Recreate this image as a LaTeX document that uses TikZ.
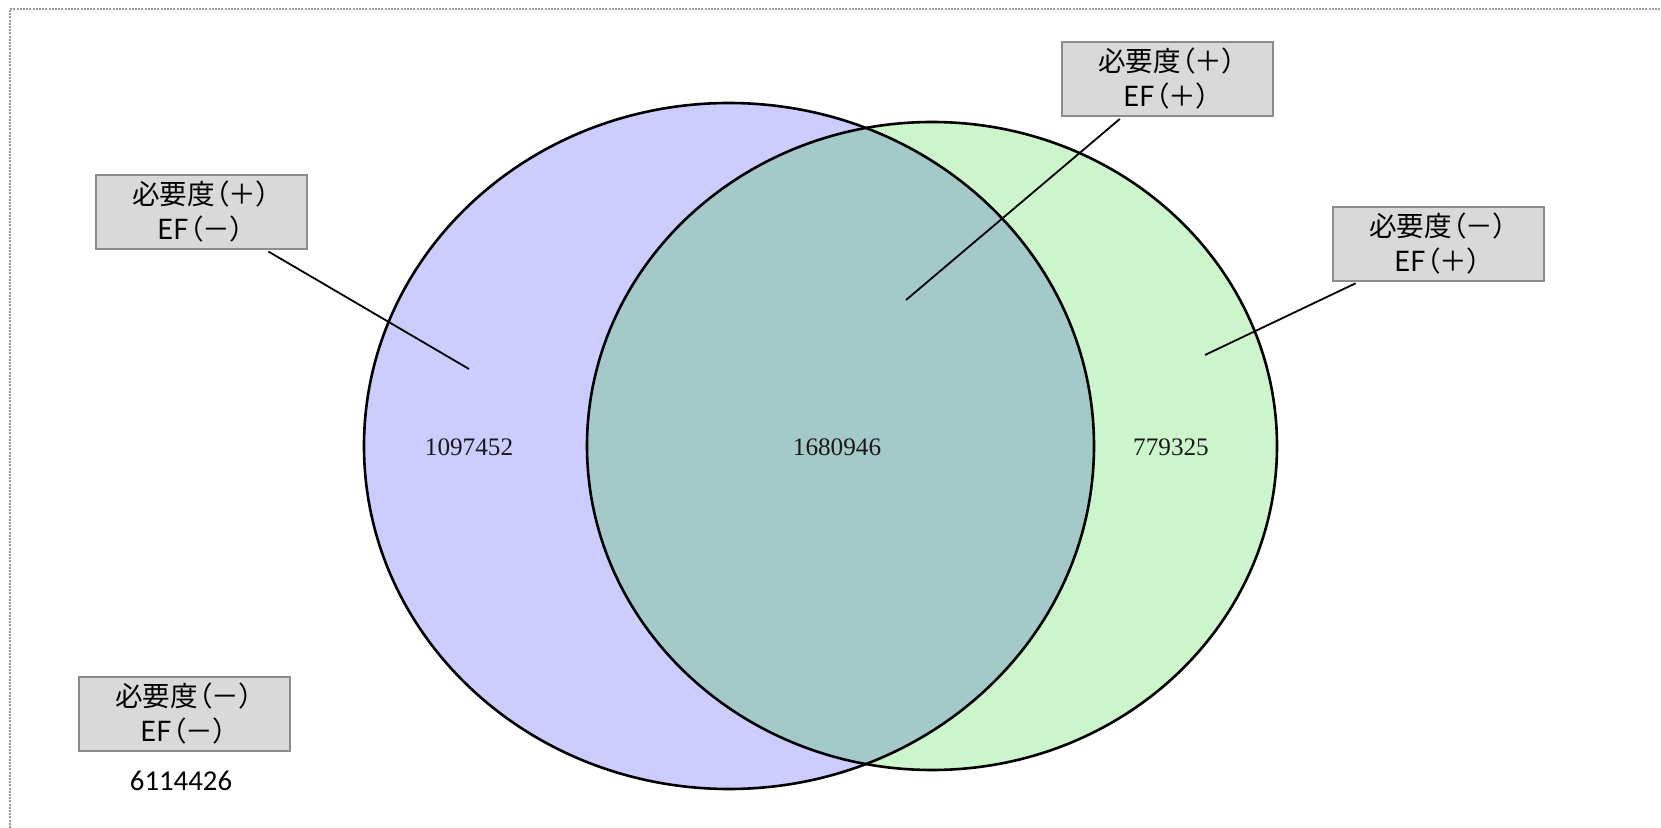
\documentclass[tikz,border=0pt]{standalone}
\usepackage{fontspec}
\setmainfont{Liberation Serif}
\newfontfamily\jpfont[RawFeature=+palt]{Noto Sans CJK JP}
\newfontfamily\calfont{Carlito}
\definecolor{setA}{HTML}{CCCCFF}
\definecolor{setB}{HTML}{CCF5CC}
\definecolor{setAB}{HTML}{A4C9C9}
\definecolor{boxfill}{HTML}{D9D9D9}
\definecolor{boxline}{HTML}{8C8C8C}
\tikzset{
  tagbox/.style={draw=boxline, line width=1pt, fill=boxfill, align=center,
    minimum width=105.5pt, minimum height=37pt, inner sep=0pt,
    font=\jpfont\fontsize{13.8}{17.5}\selectfont},
  count/.style={font=\fontsize{12.6}{15}\selectfont, text=black!90},
  leader/.style={line width=0.9pt}
}
\begin{document}
\begin{tikzpicture}[x=0.5pt,y=-0.5pt]
    \newcommand{\rxa}{182.5pt}
    \newcommand{\rya}{171.5pt}
    \newcommand{\rxb}{172.5pt}
    \newcommand{\ryb}{162pt}
    \useasboundingbox (0,0) rectangle (1661,828);
    \draw[gray!80, line width=0.6pt, dash pattern=on 1pt off 0.6pt] (10,828) -- (10,9) -- (1661,9);

    % the two sets
    \fill[setA] (729,446) ellipse [x radius=\rxa, y radius=\rya];
    \fill[setB] (932,446) ellipse [x radius=\rxb, y radius=\ryb];
    \begin{scope}
        \clip (729,446) ellipse [x radius=\rxa, y radius=\rya];
        \fill[setAB] (932,446) ellipse [x radius=\rxb, y radius=\ryb];
    \end{scope}
    \draw[line width=1.3pt] (729,446) ellipse [x radius=\rxa, y radius=\rya];
    \draw[line width=1.3pt] (932,446) ellipse [x radius=\rxb, y radius=\ryb];

    \node[count] (onlyA) at (469,447) {1097452};
    \node[count] (both) at (837,447) {1680946};
    \node[count] (onlyB) at (1171,447) {779325};

    \node[tagbox] (tagA) at (201,212) {必要度（＋）\\EF（－）};
    \node[tagbox] (tagAB) at (1167,79) {必要度（＋）\\EF（＋）};
    \node[tagbox] (tagB) at (1438,244) {必要度（－）\\EF（＋）};
    \node[tagbox] (tagNone) at (184,714) {必要度（－）\\EF（－）};
    \node[font=\calfont\fontsize{14.4}{17}\selectfont] (none) at (181,781) {6114426};

    \coordinate (tipA) at (469,369);
    \coordinate (tipAB) at (906,300);
    \coordinate (tipB) at (1205,355);
    \draw[leader, shorten <=1.5pt] (tagA) -- (tipA);
    \draw[leader, shorten <=1.5pt] (tagAB) -- (tipAB);
    \draw[leader, shorten <=1.5pt] (tagB) -- (tipB);
\end{tikzpicture}
\end{document}
